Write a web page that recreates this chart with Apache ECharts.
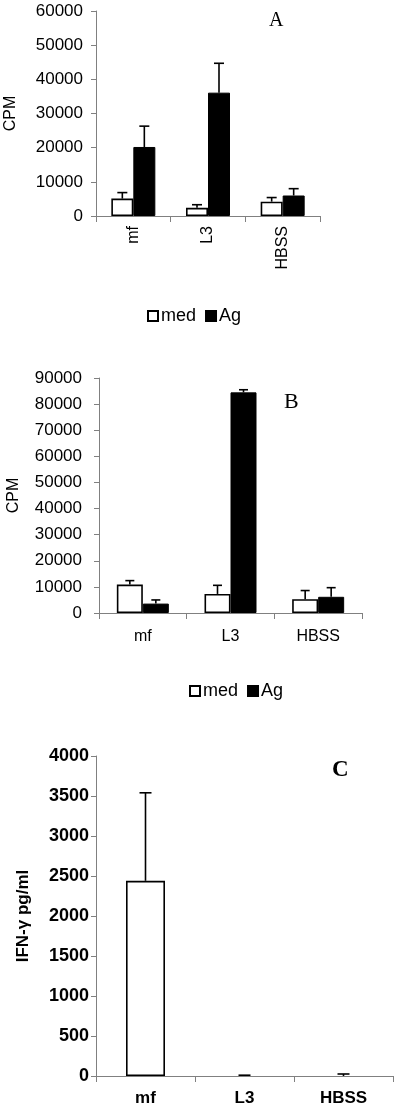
<!DOCTYPE html>
<html>
<head>
<meta charset="utf-8">
<script src="https://cdn.jsdelivr.net/npm/echarts@6/dist/echarts.min.js"></script>
<style>
  html, body { margin: 0; padding: 0; background: #fff; }
  #myChart { width: 400px; height: 1119px; }
</style>
</head>
<body>
<div id="myChart"></div>
<script>
// categories
const categories = ["mf", "L3", "HBSS"];

// panel A (CPM)
const aMed = [5100, 2400, 4200];
const aMedErr = [1750, 900, 1200];
const aAg = [20200, 36100, 6000];
const aAgErr = [6100, 8600, 2000];

// panel B (CPM)
const bMed = [10900, 7300, 5300];
const bMedErr = [1500, 3300, 3300];
const bAg = [3600, 84500, 6200];
const bAgErr = [1400, 1000, 3500];

// panel C (IFN-γ pg/ml)
const cVal = [2440, 0, 0];
const cErr = [1100, 10, 25];

const sans = "Liberation Sans, Arial, sans-serif";
const serif = "Liberation Serif, Times New Roman, serif";

function errData(vals, errs) {
  return vals.map((v, i) => [i, v, errs[i]]);
}

// error bar drawn above the bar, shifted to the bar's center
function errSeries(xi, vals, errs, shift, cap) {
  return {
    type: "custom",
    xAxisIndex: xi,
    yAxisIndex: xi,
    z: 5,
    silent: true,
    encode: { x: 0, y: 1 },
    data: errData(vals, errs),
    renderItem: function (params, api) {
      let base = api.coord([api.value(0), api.value(1)]);
      let top = api.coord([api.value(0), api.value(1) + api.value(2)]);
      let x = base[0] + shift;
      let st = { stroke: "#000", lineWidth: 1.6 };
      return {
        type: "group",
        children: [
          { type: "line", shape: { x1: x, y1: base[1], x2: x, y2: top[1] }, style: st },
          { type: "line", shape: { x1: x - cap / 2, y1: top[1], x2: x + cap / 2, y2: top[1] }, style: st },
        ],
      };
    },
  };
}

function xAxis(gi, bold, rotate, margin) {
  return {
    type: "category",
    gridIndex: gi,
    data: categories,
    axisLine: { lineStyle: { color: "#808080", width: 1 } },
    axisTick: { show: true, length: 6, lineStyle: { color: "#808080" } },
    axisLabel: {
      color: "#000",
      fontFamily: sans,
      fontSize: bold ? 17 : 16,
      fontWeight: bold ? "bold" : "normal",
      rotate: rotate,
      margin: margin,
      interval: 0,
    },
  };
}

function yAxis(gi, max, interval, name, nameGap, bold, margin) {
  return {
    type: "value",
    gridIndex: gi,
    min: 0,
    max: max,
    interval: interval,
    name: name,
    nameLocation: "middle",
    nameGap: nameGap,
    nameTextStyle: {
      color: "#000",
      fontFamily: sans,
      fontSize: bold ? 17 : 16,
      fontWeight: bold ? "bold" : "normal",
    },
    axisLine: { show: true, lineStyle: { color: "#808080", width: 1 } },
    axisTick: { show: true, length: 5, lineStyle: { color: "#808080" } },
    splitLine: { show: false },
    axisLabel: {
      color: "#000",
      fontFamily: sans,
      fontSize: bold ? 18 : 17,
      fontWeight: bold ? "bold" : "normal",
      margin: margin,
      formatter: (v) => String(v),
    },
  };
}

const whiteBar = { color: "#fff", borderColor: "#000", borderWidth: 1.6 };
const blackBar = { color: "#000", borderColor: "#000", borderWidth: 1 };

let chart = echarts.init(document.getElementById("myChart"));
let option = {
  animation: false,
  backgroundColor: "#fff",
  title: [
    { text: "A", left: 264, top: 6, textStyle: { fontFamily: serif, fontSize: 20, fontWeight: "normal", color: "#000" } },
    { text: "B", left: 279, top: 386, textStyle: { fontFamily: serif, fontSize: 22, fontWeight: "normal", color: "#000" } },
    { text: "C", left: 327, top: 754, textStyle: { fontFamily: serif, fontSize: 23, fontWeight: "bold", color: "#000" } },
  ],
  legend: [
    {
      left: 142, top: 302, itemWidth: 10, itemHeight: 10, itemGap: 9, icon: "rect",
      textStyle: { fontFamily: sans, fontSize: 18, color: "#000", padding: [0, 0, 0, -2] },
      data: ["med", "Ag"],
    },
    {
      left: 184, top: 677, itemWidth: 10, itemHeight: 10, itemGap: 9, icon: "rect",
      textStyle: { fontFamily: sans, fontSize: 18, color: "#000", padding: [0, 0, 0, -2] },
      data: ["med", "Ag"],
    },
  ],
  grid: [
    { left: 96, top: 11, width: 224, height: 205, outerBoundsMode: "none" },
    { left: 99, top: 378, width: 263, height: 235, outerBoundsMode: "none" },
    { left: 96, top: 756, width: 297, height: 320, outerBoundsMode: "none" },
  ],
  xAxis: [
    xAxis(0, false, 90, 10),
    xAxis(1, false, 0, 16),
    xAxis(2, true, 0, 14),
  ],
  yAxis: [
    yAxis(0, 60000, 10000, "CPM", 77, false, 13),
    yAxis(1, 90000, 10000, "CPM", 77, false, 17),
    yAxis(2, 4000, 500, "IFN-γ pg/ml", 64, true, 7),
  ],
  series: [
    { type: "bar", name: "med", xAxisIndex: 0, yAxisIndex: 0, data: aMed, barWidth: 22, barGap: "0%", itemStyle: whiteBar },
    { type: "bar", name: "Ag", xAxisIndex: 0, yAxisIndex: 0, data: aAg, barWidth: 22, barGap: "0%", itemStyle: blackBar },
    errSeries(0, aMed, aMedErr, -11, 10),
    errSeries(0, aAg, aAgErr, 11, 10),

    { type: "bar", name: "med", xAxisIndex: 1, yAxisIndex: 1, data: bMed, barWidth: 26, barGap: "0%", itemStyle: whiteBar },
    { type: "bar", name: "Ag", xAxisIndex: 1, yAxisIndex: 1, data: bAg, barWidth: 26, barGap: "0%", itemStyle: blackBar },
    errSeries(1, bMed, bMedErr, -13, 9),
    errSeries(1, bAg, bAgErr, 13, 9),

    {
      type: "bar", name: "IFN-γ", xAxisIndex: 2, yAxisIndex: 2, barWidth: 39, itemStyle: whiteBar,
      data: cVal.map((v) => (v > 0 ? v : { value: v, itemStyle: { borderWidth: 0 } })),
    },
    errSeries(2, cVal, cErr, 0, 12),
  ],
};
chart.setOption(option);
</script>
</body>
</html>
